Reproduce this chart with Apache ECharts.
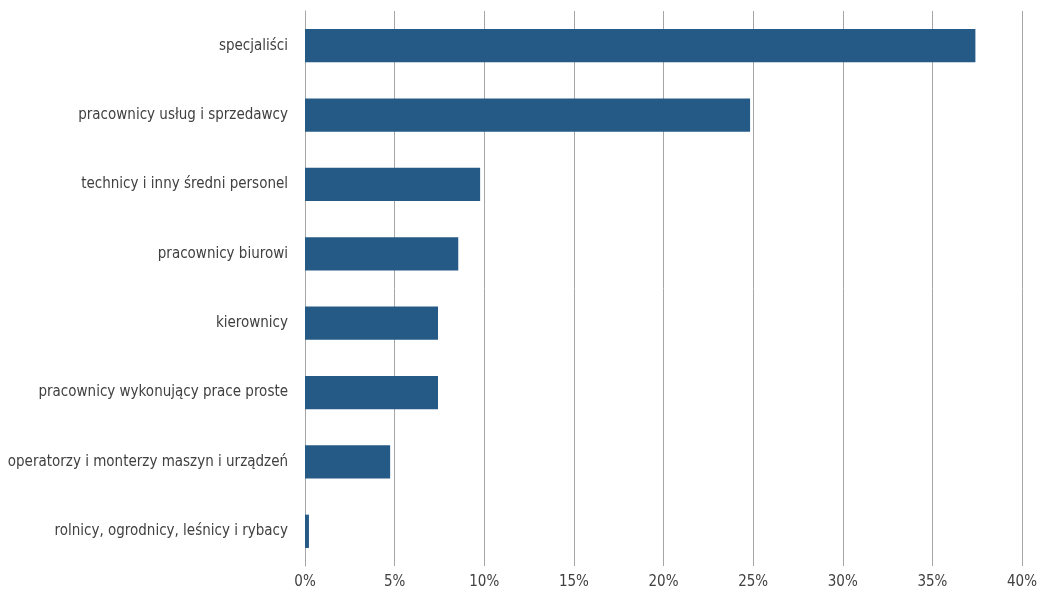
<!DOCTYPE html>
<html>
<head>
<meta charset="utf-8">
<script src="https://cdn.jsdelivr.net/npm/echarts@6/dist/echarts.min.js"></script>
<style>
  html, body { margin: 0; padding: 0; background: #fff; }
  #chart_view { width: 1042px; height: 595px; }
</style>
</head>
<body>
<div id="chart_view"></div>
<script>
// categories listed bottom-to-top (ECharts category y-axis starts at bottom)
var categories = [
    'rolnicy, ogrodnicy, leśnicy i rybacy',
    'operatorzy i monterzy maszyn i urządzeń',
    'pracownicy wykonujący prace proste',
    'kierownicy',
    'pracownicy biurowi',
    'technicy i inny średni personel',
    'pracownicy usług i sprzedawcy',
    'specjaliści'
];
var shares = [0.22, 4.75, 7.42, 7.42, 8.55, 9.77, 24.83, 37.4];
var xTicks = [0, 5, 10, 15, 20, 25, 30, 35, 40];

var font = '"DejaVu Sans Condensed", "Liberation Sans Narrow", sans-serif';

var myChart = echarts.init(document.getElementById('chart_view'));

var option = {
    animation: false,
    grid: { left: 305, right: 20, top: 11, bottom: 29, containLabel: false, outerBoundsMode: 'none' },
    xAxis: {
        type: 'value',
        min: xTicks[0],
        max: xTicks[xTicks.length - 1],
        interval: 5,
        axisLine: { show: false },
        axisTick: { show: false },
        splitLine: { lineStyle: { color: '#a6a6a6', width: 1 } },
        axisLabel: {
            formatter: '{value}%',
            color: '#404040',
            fontFamily: font,
            fontSize: 15,
            margin: 9
        }
    },
    yAxis: {
        type: 'category',
        data: categories,
        axisLine: { show: true, lineStyle: { color: '#a6a6a6', width: 1 } },
        axisTick: { show: false },
        axisLabel: {
            color: '#404040',
            fontFamily: font,
            fontSize: 15,
            margin: 17
        }
    },
    series: [{
        type: 'bar',
        data: shares,
        barWidth: '48%',
        itemStyle: { color: '#255a87' }
    }]
};

myChart.setOption(option);
</script>
</body>
</html>
